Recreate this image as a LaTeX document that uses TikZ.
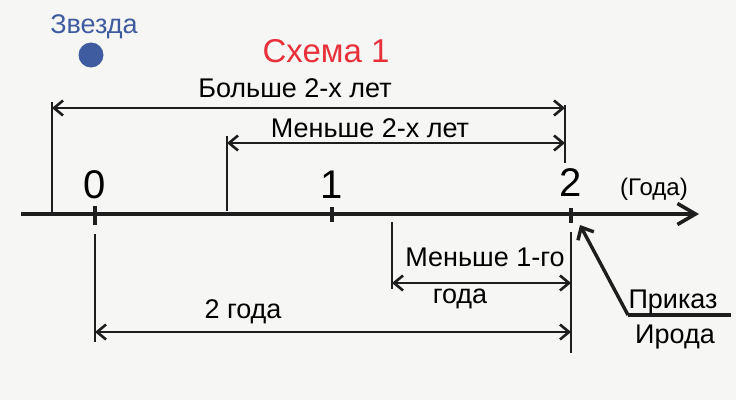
\documentclass[tikz,border=0pt]{standalone}
\usepackage{fontspec}
\setmainfont{Liberation Sans}
\usetikzlibrary{arrows.meta}

\begin{document}
\begin{tikzpicture}[x=1pt,y=1pt,
  lbl/.style={inner sep=0pt, outer sep=0pt, font=\fontsize{27}{29}\selectfont},
  num/.style={inner sep=0pt, outer sep=0pt, font=\fontsize{40}{42}\selectfont},
  bar/.style={draw=lineColor, line width=2.8pt},
  dim/.style={draw=lineColor, line width=2.6pt, {Straight Barb[length=9pt,width=15pt]}-{Straight Barb[length=9pt,width=15pt]}}]
\definecolor{fillColor}{RGB}{246,246,244}
\definecolor{lineColor}{RGB}{30,30,30}
\definecolor{starColor}{RGB}{64,92,160}
\definecolor{titleColor}{RGB}{232,48,58}
\path[use as bounding box,fill=fillColor] (0,0) rectangle (736,400);

% star and title
\node[lbl,text=starColor] (star) at ( 94,373) {Звезда};
\fill[starColor] ( 91,345) circle (12.5);
\node[text=titleColor,inner sep=0pt,font=\fontsize{33}{35}\selectfont] (title) at (326,349) {Схема 1};

% time axis
\coordinate (ax0) at ( 21,186);
\coordinate (ax1) at (699,186);
\path[draw=lineColor,line width=4.4pt,-{Straight Barb[length=18pt,width=21pt,line width=3.6pt]}] (ax0) -- (ax1);

\coordinate (t0a) at ( 95,194); \coordinate (t0b) at ( 95,175);
\coordinate (t1a) at (332,193); \coordinate (t1b) at (332,178);
\coordinate (t2a) at (571,192); \coordinate (t2b) at (571,177);
\path[bar,line width=3.6pt] (t0a) -- (t0b);
\path[bar,line width=3.6pt] (t1a) -- (t1b);
\path[bar,line width=3.6pt] (t2a) -- (t2b);

\node[num] (n0) at ( 95,215) {0};
\node[num] (n1) at (332,215) {1};
\node[num] (n2) at (571,217) {2};
\node[lbl,font=\fontsize{24}{26}\selectfont] (unit) at (654,211) {(Года)};

% upper brackets
\coordinate (bA) at ( 52,298); \coordinate (bB) at ( 52,186);
\coordinate (mA) at (227,264); \coordinate (mB) at (227,189);
\coordinate (rA) at (565,295); \coordinate (rB) at (565,237);
\path[bar] (bA) -- (bB);
\path[bar] (mA) -- (mB);
\path[bar] (rA) -- (rB);

\coordinate (more0) at ( 52,292); \coordinate (more1) at (565,292);
\coordinate (less0) at (227,257); \coordinate (less1) at (565,257);
\path[dim] (more0) -- (more1);
\path[dim] (less0) -- (less1);
\node[lbl] (more) at (295,312) {Больше 2-х лет};
\node[lbl] (less) at (370,272) {Меньше 2-х лет};

% lower brackets
\coordinate (yA) at (392,178); \coordinate (yB) at (392,111);
\coordinate (zA) at ( 95,166); \coordinate (zB) at ( 95, 58);
\coordinate (sA) at (571,168); \coordinate (sB) at (571, 47);
\path[bar] (yA) -- (yB);
\path[bar] (zA) -- (zB);
\path[bar] (sA) -- (sB);

\coordinate (year0) at (392,117); \coordinate (year1) at (571,117);
\coordinate (two0) at ( 95, 68); \coordinate (two1) at (571, 68);
\path[dim] (year0) -- (year1);
\path[dim] (two0) -- (two1);
\node[lbl] (year) at (485,143) {Меньше 1-го};
\node[lbl] (yearb) at (460,101) {года};
\node[lbl] (two) at (243, 88) {2 года};

% order of Herod
\coordinate (ordA) at (628, 85);
\coordinate (ordB) at (580,175);
\coordinate (ordC) at (731, 85);
\path[draw=lineColor,line width=3.4pt,-{Straight Barb[length=10pt,width=18pt]}] (ordA) -- (ordB);
\path[draw=lineColor,line width=3.4pt] (ordA) -- (ordC);
\node[lbl] (order) at (673, 98) {Приказ};
\node[lbl] (herod) at (675, 63) {Ирода};
\end{tikzpicture}
\end{document}
